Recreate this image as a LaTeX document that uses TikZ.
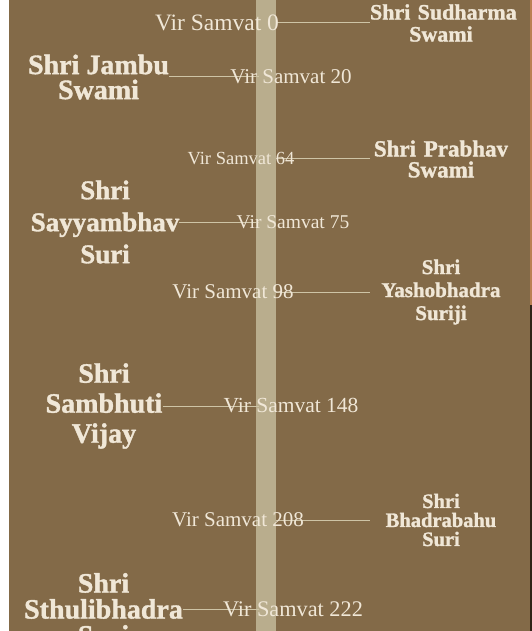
\documentclass[tikz,border=0pt]{standalone}
\usepackage{fontspec}
\setmainfont{Liberation Serif}[BoldFeatures={FakeBold=1.3}]

\definecolor{bgbrown}{RGB}{131,106,72}
\definecolor{bandtan}{RGB}{185,173,141}
\definecolor{cream}{RGB}{240,231,215}
\definecolor{linetan}{RGB}{206,196,166}
\definecolor{edgeorange}{RGB}{186,128,82}
\definecolor{edgedark}{RGB}{48,36,24}

\begin{document}
\begin{tikzpicture}[x=1pt, y=-1pt,
	every node/.style={text=cream, inner sep=0pt},
	era/.style={font=\fontsize{#1}{#1}\selectfont},
	saint/.style 2 args={font=\bfseries\fontsize{#1}{#2}\selectfont, align=center},
	rsaint/.style 2 args={saint={#1}{#2}, text width=142pt},
	link/.style={draw=linetan, line width=1pt}]
	\useasboundingbox (0,0) rectangle (532,631);
	\fill[white] (0,0) rectangle (532,631);
	\fill[bgbrown] (9,0) rectangle (530,631);
	\fill[edgeorange] (530,0) rectangle (532,305);
	\fill[edgedark] (530,305) rectangle (532,631);
	% the timeline band
	\fill[bandtan] (256,0) rectangle (275.5,631);
	\foreach \n/\y in {1/23, 3/159, 5/292, 7/520}
		\coordinate (r\n) at (275.5,\y);
	\foreach \n/\y in {2/77, 4/222, 6/406, 8/609}
		\coordinate (l\n) at (259,\y);
	% saints on the right
	\node[rsaint={22}{22}] (sudharma) at (441,23) {\mbox{Shri Sudharma}\\Swami};
	\node[rsaint={23}{21}] (prabhav) at (441,159) {Shri Prabhav\\Swami};
	\node[rsaint={21}{23}] (yashobhadra) at (441,292) {Shri\\Yashobhadra\\Suriji};
	\node[rsaint={20.5}{19}] (bhadrabahu) at (441,520) {Shri\\Bhadrabahu\\Suri};
	\draw[link] (r1) -- (sudharma.west);
	\draw[link] (r3) -- (prabhav.west);
	\draw[link] (r5) -- (yashobhadra.west);
	\draw[link] (r7) -- (bhadrabahu.west);
	% saints on the left
	\node[saint={28}{25}] (jambu) at (98.5,77) {Shri Jambu\\Swami};
	\node[saint={27}{32}] (sayyambhav) at (105,222) {Shri\\Sayyambhav\\Suri};
	\node[saint={28}{30}] (sambhuti) at (104,406) {Shri\\Sambhuti\\Vijay};
	\node[saint={28}{26}] (sthulibhadra) at (103.5,609) {Shri\\Sthulibhadra\\Suri};
	\draw[link] (jambu.east) -- (l2);
	\draw[link] (sayyambhav.east) -- (l4);
	\draw[link] (sambhuti.east) -- (l6);
	\draw[link] (sthulibhadra.east) -- (l8);
	% years
	\foreach \yr/\x/\y/\s in {0/217/23/23.5, 20/291/77/21, 64/241/159/18.5, 75/293/222/19.5,
		98/233/292/21, 148/291/406/21.5, 208/238/520/21, 222/293/609/22.3}
		\node[era=\s] (vs\yr) at (\x,\y) {Vir Samvat \yr};
\end{tikzpicture}
\end{document}
